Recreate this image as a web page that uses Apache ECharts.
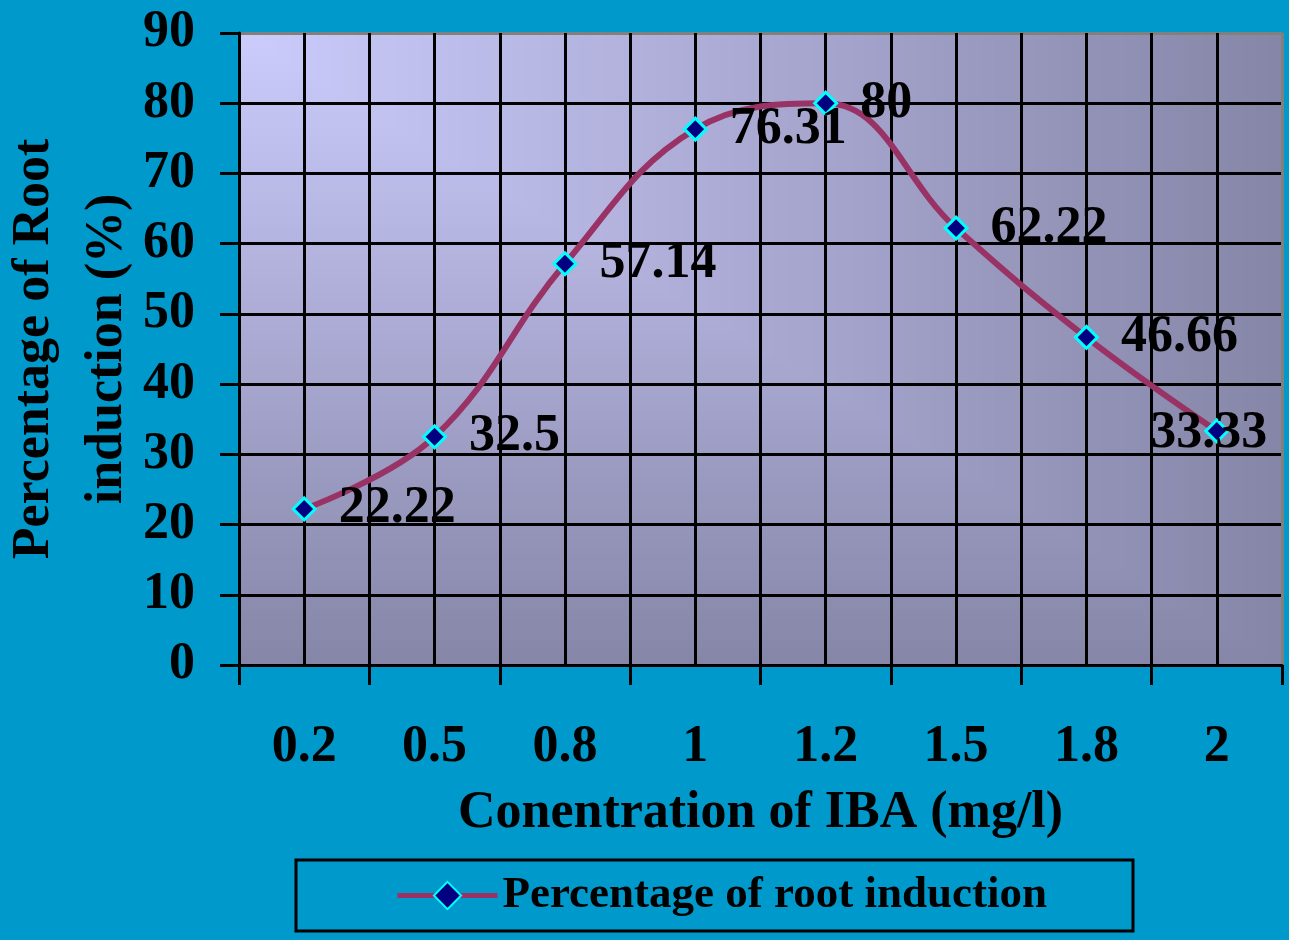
<!DOCTYPE html>
<html><head><meta charset="utf-8">
<script src="https://cdn.jsdelivr.net/npm/echarts@6/dist/echarts.min.js"></script>
<style>html,body{margin:0;padding:0;background:#0099CC}#c{width:1289px;height:940px}</style>
</head><body><div id="c"></div>
<script>
const categories = ['0.2','0.5','0.8','1','1.2','1.5','1.8','2'];
const rootInduction = [22.22, 32.5, 57.14, 76.31, 80, 62.22, 46.66, 33.33];
const yTicks = [0,10,20,30,40,50,60,70,80,90];
const seriesName = 'Percentage of root induction';

const G = {left:239, top:33, right:7, bottom:275, w:1043, h:632};
const FONT = '"Liberation Serif", "Times New Roman", serif';
const c0 = [204,204,253], c1 = [134,134,168];
const bg = [];
const N = 80;
for (let k = N; k >= 1; k--) {
  const t = k / N;
  const col = c0.map((v,i)=>Math.round(v + (c1[i]-v)*t));
  bg.push({type:'rect', z:-100, silent:true,
    shape:{x:G.left, y:G.top, width:G.w*t, height:G.h*t},
    style:{fill:'rgb('+col.join(',')+')'}});
}
const ySplitColors = yTicks.map((v,i)=> i===yTicks.length-1 ? '#808080' : '#000');
const xSplitColors = [];
for (let i=0;i<=categories.length*2;i++) xSplitColors.push(i===categories.length*2 ? '#808080' : '#000');

const chart = echarts.init(document.getElementById('c'));
chart.setOption({
  backgroundColor:'#0099CC',
  animation:false,
  graphic:{z:-100, elements:bg},
  grid:{left:G.left, top:G.top, right:G.right, bottom:G.bottom, containLabel:false, outerBoundsMode:'none'},
  xAxis:[{
    type:'category', data:categories, boundaryGap:true,
    axisLine:{lineStyle:{color:'#000', width:3}},
    axisTick:{show:true, length:20, lineStyle:{color:'#000', width:3}},
    axisLabel:{fontFamily:FONT, fontWeight:'bold', fontSize:52, color:'#000', margin:57},
    splitLine:{show:false},
    name:'Conentration of IBA (mg/l)', nameLocation:'middle', nameGap:123, nameMoveOverlap:false,
    nameTextStyle:{fontFamily:FONT, fontWeight:'bold', fontSize:52, color:'#000'}
  },{
    type:'value', min:0, max:categories.length*2, interval:1, position:'bottom',
    axisLine:{show:false}, axisTick:{show:false}, axisLabel:{show:false},
    splitLine:{show:true, lineStyle:{color:xSplitColors, width:3}}
  }],
  yAxis:{
    type:'value', min:0, max:90, interval:10,
    axisLine:{show:true, lineStyle:{color:'#000', width:3}},
    axisTick:{show:true, length:19, lineStyle:{color:'#000', width:3}},
    axisLabel:{fontFamily:FONT, fontWeight:'bold', fontSize:52, color:'#000', margin:44},
    splitLine:{show:true, lineStyle:{color:ySplitColors, width:3}},
    name:'Percentage of Root\ninduction (%)', nameLocation:'middle', nameRotate:90, nameGap:95, nameMoveOverlap:false,
    nameTextStyle:{fontFamily:FONT, fontWeight:'bold', fontSize:52, color:'#000', lineHeight:73}
  },
  legend:{
    left:296, top:860, orient:'horizontal',
    borderColor:'#000', borderWidth:3,
    padding:[13, 86, 13, 99],
    itemWidth:100, itemHeight:34, itemGap:10,
    lineStyle:{width:5},
    textStyle:{fontFamily:FONT, fontWeight:'bold', fontSize:45, color:'#000'},
    data:[seriesName]
  },
  series:[{
    name:seriesName, type:'line', xAxisIndex:0, yAxisIndex:0,
    data:rootInduction.map((v,i)=> i===rootInduction.length-1
      ? {value:v, label:{position:'inside', offset:[-8,3]}} : v),
    smooth:0.4,
    lineStyle:{color:'#993366', width:6},
    itemStyle:{color:'#000080', borderColor:'#00FFFF', borderWidth:3},
    symbol:'diamond', symbolSize:22, showAllSymbol:true,
    label:{show:true, position:'right', distance:22, fontFamily:FONT, fontWeight:'bold', fontSize:52, color:'#000'},
    z:5
  }]
});
</script></body></html>
